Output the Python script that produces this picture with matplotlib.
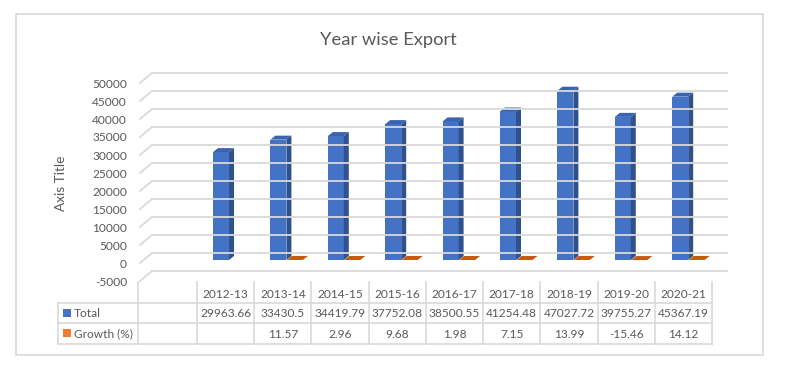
import numpy as np
import matplotlib
matplotlib.use("Agg")
import matplotlib.pyplot as plt
from matplotlib.patches import Polygon, Rectangle
from matplotlib.lines import Line2D
from matplotlib.transforms import IdentityTransform

# ---------------- data ----------------
years = ["2012-13", "2013-14", "2014-15", "2015-16", "2016-17",
         "2017-18", "2018-19", "2019-20", "2020-21"]
total = [29963.66, 33430.5, 34419.79, 37752.08, 38500.55,
         41254.48, 47027.72, 39755.27, 45367.19]
growth = [None, 11.57, 2.96, 9.68, 1.98, 7.15, 13.99, -15.46, 14.12]
total_labels = ["29963.66", "33430.5", "34419.79", "37752.08", "38500.55",
                "41254.48", "47027.72", "39755.27", "45367.19"]
growth_labels = ["", "11.57", "2.96", "9.68", "1.98", "7.15", "13.99", "-15.46", "14.12"]
series_names = ["Total", "Growth (%)"]
title = "Year wise Export"
axis_title = "Axis Title"
y_ticks = list(range(-5000, 50001, 5000))

# ---------------- style ----------------
W, H = 786, 389
FONT = "Lato"
TXT = "#595959"
GRID = "#D9D9D9"
BLUE_F, BLUE_S, BLUE_T = "#4472C4", "#2F528F", "#3A64B0"
ORANGE_F, ORANGE_T = "#ED7D31", "#C55A11"
FS = 8.6

fig = plt.figure(figsize=(W / 100, H / 100), dpi=100)
fig.patch.set_facecolor("white")

def px(x, y):
    return x, H - y

# main data axes (mid-depth plane of the 3D bars)
ax_l, ax_r, ax_t, ax_b = 138, 728, 60, 283
ax = fig.add_axes([ax_l / W, 1 - ax_b / H, (ax_r - ax_l) / W, (ax_b - ax_t) / H])
ax.set_axis_off()
x0_px, step_px = 221.0, 57.4
base_px, scale = 260.0, 0.0036
ax.set_xlim((ax_l - x0_px) / step_px, (ax_r - x0_px) / step_px)
ax.set_ylim((base_px - ax_b) / scale, (base_px - ax_t) / scale)
fig.canvas.draw()

def disp(x, v):
    return ax.transData.transform((x, v))

ident = IdentityTransform()

# outer chart border
fig.add_artist(Rectangle(px(16, 355), 747, 341, transform=ident,
                         fill=False, edgecolor=GRID, lw=1.2))

# back wall gridlines + left diagonals
back_dx, back_dy = 8.4, 7.0
front_dx, front_dy = -3.6, -3.0
xg_left = (152 - back_dx - x0_px) / step_px
xg_right = (727 - back_dx - x0_px) / step_px
for v in y_ticks:
    lx, ly = disp(xg_left, v)
    rx, _ = disp(xg_right, v)
    fig.add_artist(Line2D([lx + front_dx, lx + back_dx, rx + back_dx],
                          [ly + front_dy, ly + back_dy, ly + back_dy],
                          transform=ident, color=GRID, lw=1.3))
    fig.text((lx + front_dx - 13) / W, (ly + front_dy - 1) / H, f"{v}",
             ha="right", va="center", fontsize=FS, color=TXT, family=FONT)

# 3D bars
bw = 16 / step_px
ddx, ddy = 5.0, 4.0
x = np.arange(len(years))
ax.bar(x, total, width=bw, color=BLUE_F, edgecolor="none", zorder=3)
for i, v in enumerate(total):
    lx, by = disp(x[i] - bw / 2, 0)
    rx, ty = disp(x[i] + bw / 2, v)
    fig.add_artist(Polygon([(rx, by), (rx, ty), (rx + ddx, ty + ddy), (rx + ddx, by + ddy)],
                           closed=True, transform=ident, facecolor=BLUE_S, edgecolor="none"))
    fig.add_artist(Polygon([(lx, ty), (rx, ty), (rx + ddx, ty + ddy), (lx + ddx, ty + ddy)],
                           closed=True, transform=ident, facecolor=BLUE_T, edgecolor="none"))

gx = x + 16.5 / step_px
for i, g in enumerate(growth):
    if g is None:
        continue
    ax.bar(gx[i], g, width=bw, color=ORANGE_F, edgecolor="none", zorder=2)
    lx, ty = disp(gx[i] - bw / 2, g)
    rx, _ = disp(gx[i] + bw / 2, g)
    fig.add_artist(Polygon([(lx, ty), (rx, ty), (rx + ddx, ty + ddy), (lx + ddx, ty + ddy)],
                           closed=True, transform=ident, facecolor=ORANGE_T, edgecolor="none"))

# title and axis title
fig.text(388.5 / W, 1 - 40 / H, title, ha="center", va="center",
         fontsize=13.2, color=TXT, family=FONT)
fig.text(61 / W, 1 - 183 / H, axis_title, ha="center", va="center", rotation=90,
         fontsize=9.8, color=TXT, family=FONT)

# data table
col0, colw = 197.0, (712 - 197) / 9
t_top, r1, r2, r3 = 282, 303, 323, 344
def hline(y, x1, x2):
    fig.add_artist(Line2D([x1, x2], [H - y, H - y], transform=ident, color=GRID, lw=1.2))
def vline(xx, y1, y2):
    fig.add_artist(Line2D([xx, xx], [H - y1, H - y2], transform=ident, color=GRID, lw=1.2))
for yy in (r1, r2, r3):
    hline(yy, 58, 712)
vline(58, r1, r3)
vline(138, t_top, r3)
for k in range(10):
    vline(col0 + colw * k, t_top, r3)

def cell_text(cx, cy, s):
    fig.text(cx / W, 1 - cy / H, s, ha="center", va="center",
             fontsize=FS, color=TXT, family=FONT)

for k in range(9):
    cx = col0 + colw * (k + 0.5)
    cell_text(cx, 294, years[k])
    cell_text(cx, 313.5, total_labels[k])
    cell_text(cx, 334, growth_labels[k])

for (name, col, cy) in ((series_names[0], BLUE_F, 313), (series_names[1], ORANGE_F, 333)):
    fig.add_artist(Rectangle(px(63, cy + 3.5), 8, 7.5, transform=ident,
                             facecolor=col, edgecolor="none"))
    fig.text(74 / W, 1 - (cy + 0.5) / H, name, ha="left", va="center",
             fontsize=FS, color=TXT, family=FONT)

fig.savefig("out.png", dpi=100)
